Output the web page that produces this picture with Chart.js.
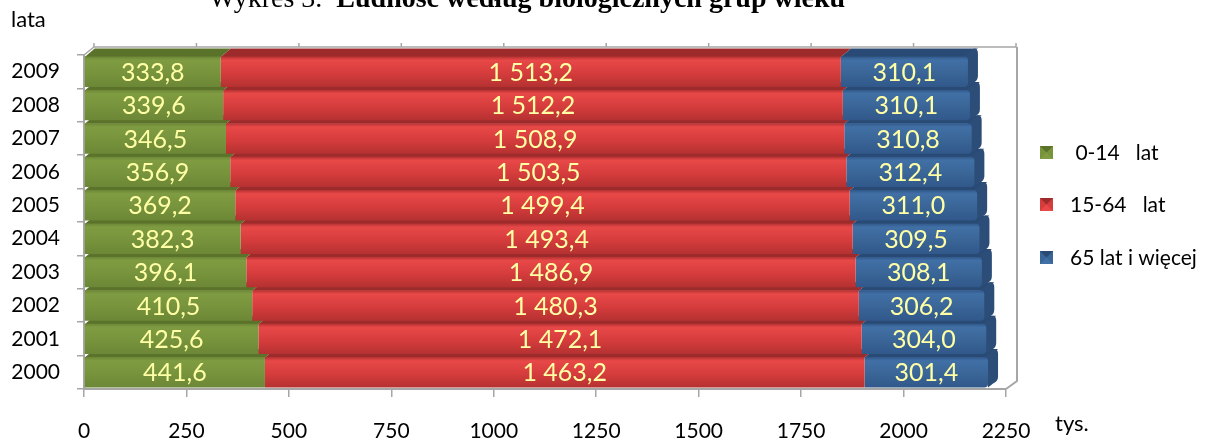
<!DOCTYPE html>
<html>
<head>
<meta charset="utf-8">
<script src="https://cdn.jsdelivr.net/npm/chart.js@4"></script>
<style>
  html, body { margin: 0; padding: 0; background: #fff; }
  #wrap { position: relative; width: 1206px; height: 438px; }
</style>
</head>
<body>
<div id="wrap"><canvas id="myChart" width="1206" height="438"></canvas></div>
<script>
// lata (od dołu do góry)
const years = ['2000', '2001', '2002', '2003', '2004', '2005', '2006', '2007', '2008', '2009'];
const age0_14 = [441.6, 425.6, 410.5, 396.1, 382.3, 369.2, 356.9, 346.5, 339.6, 333.8];
const age15_64 = [1463.2, 1472.1, 1480.3, 1486.9, 1493.4, 1499.4, 1503.5, 1508.9, 1512.2, 1513.2];
const age65plus = [301.4, 304.0, 306.2, 308.1, 309.5, 311.0, 312.4, 310.8, 310.1, 310.1];
const seriesNames = [' 0-14   lat', '15-64   lat', '65 lat i więcej'];
const xTicks = [0, 250, 500, 750, 1000, 1250, 1500, 1750, 2000, 2250];

const front = ['#77933c', '#d63c3c', '#3a6597'];
const light = ['#7f9c42', '#e84848', '#4170a6'];
const dark = ['#6c8736', '#b53131', '#31588a'];
const top_face = ['#5a7229', '#9e2b2b', '#284a74'];
const DX = 10, DY = -8;
const BAR_PCT = 0.91;
const FONT = 'Lato, "Open Sans", sans-serif';

function fmt(v) {
    let s = v.toFixed(1).split('.');
    let i = s[0].replace(/\B(?=(\d{3})+(?!\d))/g, ' ');
    return i + ',' + s[1];
}

function barFill(d) {
    return (c) => {
        const ch = c.chart;
        const a = ch.chartArea;
        if (!a || !ch.scales.y) return front[d];
        const yc = ch.scales.y.getPixelForValue(c.dataIndex);
        const h = (a.bottom - a.top) / ch.data.labels.length * BAR_PCT;
        const g = ch.ctx.createLinearGradient(0, yc - h / 2, 0, yc + h / 2);
        g.addColorStop(0, dark[d]);
        g.addColorStop(0.12, light[d]);
        g.addColorStop(0.55, front[d]);
        g.addColorStop(1, dark[d]);
        return g;
    };
}

// pseudo-3D: tylna ściana, górne i boczne ściany słupków
const depthPlugin = {
    id: 'depth',
    beforeDatasetsDraw(chart) {
        const ctx = chart.ctx;
        const a = chart.chartArea;
        const xs = chart.scales.x;
        ctx.save();
        ctx.strokeStyle = '#a6a6a6';
        ctx.lineWidth = 1.5;
        ctx.beginPath();
        ctx.moveTo(a.left, a.top);
        ctx.lineTo(a.left + DX, a.top + DY);
        ctx.lineTo(a.right + DX, a.top + DY);
        ctx.stroke();
        ctx.lineWidth = 2;
        ctx.beginPath();
        ctx.moveTo(a.right + DX + 1, a.top + DY);
        ctx.lineTo(a.right + DX + 1, a.bottom + DY);
        ctx.lineTo(a.right, a.bottom);
        ctx.stroke();
        ctx.lineWidth = 1.5;
        xTicks.forEach(t => {
            const px = xs.getPixelForValue(t) + DX;
            ctx.beginPath();
            ctx.moveTo(px, a.top + DY - 4);
            ctx.lineTo(px, a.top + DY);
            ctx.stroke();
        });
        const n = chart.data.labels.length;
        for (let i = 0; i < n; i++) {
            chart.data.datasets.forEach((ds, d) => {
                const el = chart.getDatasetMeta(d).data[i];
                const x0 = Math.min(el.base, el.x), x1 = Math.max(el.base, el.x);
                const t = el.y - el.height / 2, b = el.y + el.height / 2;
                ctx.fillStyle = top_face[d];
                ctx.beginPath();
                ctx.moveTo(x0, t + 0.5);
                ctx.lineTo(x0 + DX, t + DY);
                ctx.lineTo(x1 + DX, t + DY);
                ctx.lineTo(x1, t + 0.5);
                ctx.closePath();
                ctx.fill();
                if (d === chart.data.datasets.length - 1) {
                    ctx.fillStyle = '#2b4d78';
                    ctx.beginPath();
                    ctx.moveTo(x1 - 4, t);
                    ctx.lineTo(x1 + DX - 4, t + DY);
                    ctx.quadraticCurveTo(x1 + DX, t + DY, x1 + DX, t + DY + 5);
                    ctx.lineTo(x1 + DX, b + DY - 3);
                    ctx.quadraticCurveTo(x1 + DX, b + DY + 2, x1 + DX - 5, b + DY + 4);
                    ctx.lineTo(x1, b);
                    ctx.closePath();
                    ctx.fill();
                }
            });
        }
        ctx.restore();
    },
    afterDatasetsDraw(chart) {
        const ctx = chart.ctx;
        ctx.save();
        ctx.font = '25px ' + FONT;
        ctx.fillStyle = '#ffffa6';
        ctx.textAlign = 'center';
        ctx.textBaseline = 'middle';
        chart.data.datasets.forEach((ds, d) => {
            chart.getDatasetMeta(d).data.forEach((el, i) => {
                ctx.fillText(fmt(ds.data[i]), (el.base + el.x) / 2, el.y + 1);
            });
        });
        ctx.restore();
    },
    afterDraw(chart) {
        const ctx = chart.ctx;
        ctx.save();
        ctx.fillStyle = '#000';
        ctx.textBaseline = 'alphabetic';
        // tytuł (ucięty u góry)
        const serif = '"Liberation Serif", "Times New Roman", serif';
        ctx.font = '28px ' + serif;
        const p1 = 'Wykres 3.  ';
        const w1 = ctx.measureText(p1).width;
        ctx.font = 'bold 28px ' + serif;
        const p2 = 'Ludność według biologicznych grup wieku';
        const w2 = ctx.measureText(p2).width;
        let x = 527 - (w1 + w2) / 2;
        ctx.font = '28px ' + serif;
        ctx.fillText(p1, x, 7);
        ctx.font = 'bold 28px ' + serif;
        ctx.fillText(p2, x + w1, 7);

        ctx.font = '22px ' + FONT;
        ctx.textBaseline = 'middle';
        ctx.fillText('lata', 11, 20);
        ctx.fillText('tys.', 1055, 424);

        // legenda
        const ly = [152, 204, 257];
        chart.data.datasets.forEach((ds, d) => {
            const mx = 1040, my = ly[d] - 6, s = 13;
            ctx.fillStyle = front[d];
            ctx.fillRect(mx, my, s, s);
            ctx.fillStyle = top_face[d];
            ctx.beginPath();
            ctx.moveTo(mx, my);
            ctx.lineTo(mx + s, my);
            ctx.lineTo(mx + s / 2, my + s / 2);
            ctx.closePath();
            ctx.fill();
            ctx.fillStyle = light[d];
            ctx.beginPath();
            ctx.moveTo(mx, my + s);
            ctx.lineTo(mx + s, my + s);
            ctx.lineTo(mx + s / 2, my + s / 2);
            ctx.closePath();
            ctx.fill();
            ctx.fillStyle = '#000';
            ctx.font = '21px ' + FONT;
            ctx.fillText(ds.label, 1070, ly[d] + 1);
        });
        ctx.restore();
    }
};

const ctx = document.getElementById('myChart').getContext('2d');
const myChart = new Chart(ctx, {
    type: 'bar',
    data: {
        labels: years,
        datasets: [
            { label: seriesNames[0], data: age0_14, backgroundColor: barFill(0) },
            { label: seriesNames[1], data: age15_64, backgroundColor: barFill(1) },
            { label: seriesNames[2], data: age65plus, backgroundColor: barFill(2),
              borderRadius: { topRight: 4, bottomRight: 4 }, borderSkipped: false }
        ]
    },
    options: {
        indexAxis: 'y',
        responsive: false,
        animation: false,
        events: [],
        datasets: { bar: { categoryPercentage: 1.0, barPercentage: BAR_PCT } },
        layout: { padding: { top: 55, right: 200, left: 0, bottom: 0 } },
        plugins: { legend: { display: false }, tooltip: { enabled: false } },
        scales: {
            x: {
                stacked: true,
                min: 0,
                max: 2250,
                afterBuildTicks: (s) => { s.ticks = xTicks.map(v => ({ value: v })); },
                afterFit: (s) => { s.height = 49; },
                ticks: { color: '#000', padding: 22, maxRotation: 0,
                         callback: (v) => String(v),
                         font: { family: FONT, size: 21 } },
                grid: { drawOnChartArea: false, tickLength: 8, color: '#a6a6a6', lineWidth: 1.5 },
                border: { color: '#a6a6a6', width: 2 }
            },
            y: {
                stacked: true,
                reverse: true,
                afterFit: (s) => { s.width = 84; },
                ticks: { color: '#000', padding: 17, font: { family: FONT, size: 21 } },
                grid: { drawOnChartArea: false, tickLength: 7, color: '#a6a6a6', lineWidth: 1.5 },
                border: { color: '#a6a6a6', width: 2 }
            }
        }
    },
    plugins: [depthPlugin]
});
</script>
</body>
</html>
